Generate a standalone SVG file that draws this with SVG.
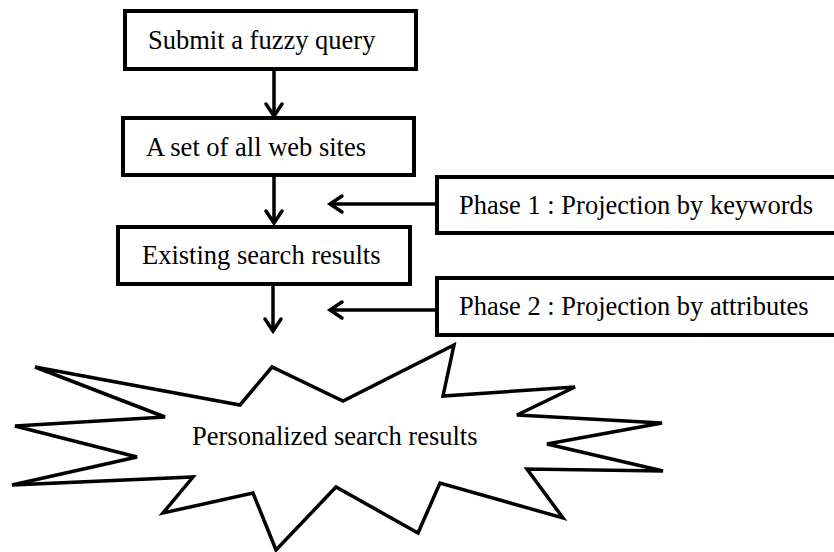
<svg xmlns="http://www.w3.org/2000/svg" width="834" height="552" viewBox="0 0 834 552">
<defs>
<style>
.box{fill:#fff;stroke:#000;stroke-width:4}
.t{font-family:'Liberation Serif','Times New Roman',Times,'DejaVu Serif',serif;font-size:26.5px;fill:#000}
.c{fill:none;stroke:#000;stroke-width:3.5}
.h{fill:none;stroke:#000;stroke-width:3.5;stroke-linecap:round;stroke-linejoin:miter}
.star{fill:#fff;stroke:#000;stroke-width:3.5;stroke-linejoin:miter}
</style>
</defs>
<rect width="834" height="552" fill="#fff"/>
<g id="n1"><rect class="box" x="125" y="11" width="291" height="58"/><text class="t" x="148" y="49" font-family="Liberation Serif, serif">Submit a fuzzy query</text></g>
<g id="n2"><rect class="box" x="123" y="118" width="291" height="57"/><text class="t" x="146" y="156" font-family="Liberation Serif, serif">A set of all web sites</text></g>
<g id="n3"><rect class="box" x="118" y="227" width="292" height="57"/><text class="t" x="142" y="264" font-family="Liberation Serif, serif">Existing search results</text></g>
<g id="p1"><rect class="box" x="437" y="177" width="420" height="56"/><text class="t" x="459" y="214" font-family="Liberation Serif, serif">Phase 1 : Projection by keywords</text></g>
<g id="p2"><rect class="box" x="437" y="278" width="420" height="57"/><text class="t" x="459" y="315" font-family="Liberation Serif, serif">Phase 2 : Projection by attributes</text></g>
<g id="n4"><polygon class="star" points="35,367 240,405 272,367 343,401 454,345 443,396 575,387 517,415 662,423 547,444 663,471 527,469 563,518 440,483 418,533 336,487 276,550 253,493 163,513 193,477 12,485 137,457 15,426 165,417"/><text class="t" x="192" y="445" font-family="Liberation Serif, serif">Personalized search results</text></g>
<g id="connectors">
<line class="c" x1="274" y1="69" x2="274" y2="115"/><polyline class="h" points="266,104 274,116 282,104"/>
<line class="c" x1="274" y1="175" x2="274" y2="222"/><polyline class="h" points="266,211 274,223 282,211"/>
<line class="c" x1="273" y1="284" x2="273" y2="330"/><polyline class="h" points="265,319 273,331 281,319"/>
<line class="c" x1="437" y1="204" x2="331" y2="204"/><polyline class="h" points="342,196 330,204 342,212"/>
<line class="c" x1="437" y1="310" x2="331" y2="310"/><polyline class="h" points="342,302 330,310 342,318"/>
</g>
</svg>
